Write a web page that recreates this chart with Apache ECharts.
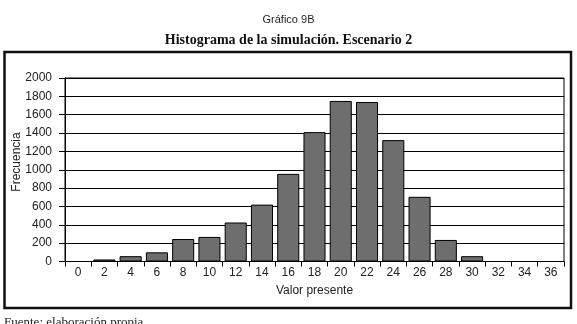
<!DOCTYPE html>
<html>
<head>
<meta charset="utf-8">
<script src="https://cdn.jsdelivr.net/npm/echarts@6/dist/echarts.min.js"></script>
<style>html,body{margin:0;padding:0;background:#fff;}#c{width:577px;height:324px;}</style>
</head>
<body>
<div id="c"></div>
<script>
const categories = ['0','2','4','6','8','10','12','14','16','18','20','22','24','26','28','30','32','34','36'];
const frecuencia = [0, 22, 58, 100, 245, 268, 425, 620, 955, 1410, 1750, 1738, 1323, 705, 235, 58, 0, 0, 0];
const yTicks = {min: 0, max: 2000, interval: 200};

const chart = echarts.init(document.getElementById('c'), null, {renderer: 'canvas'});
chart.setOption({
  animation: false,
  backgroundColor: '#fff',
  title: [
    {text: 'Gráfico 9B', left: 'center', top: 9, textStyle: {fontFamily: 'Liberation Sans', fontSize: 11, fontWeight: 'normal', color: '#222'}},
    {text: 'Histograma de la simulación. Escenario 2', left: 'center', top: 28, textStyle: {fontFamily: 'Liberation Serif', fontSize: 14, fontWeight: 'bold', color: '#111'}}
  ],
  graphic: [
    {type: 'rect', shape: {x: 4.5, y: 52, width: 566.5, height: 256}, style: {fill: 'none', stroke: '#111', lineWidth: 2.5}, silent: true},
    {type: 'text', left: 4, top: 316, style: {text: 'Fuente: elaboración propia', font: '13px "Liberation Serif"', fill: '#222'}, silent: true},
    {type: 'text', x: 17, y: 162, rotation: Math.PI / 2, style: {text: 'Frecuencia', font: '12px "Liberation Sans"', fill: '#222', align: 'center', verticalAlign: 'middle'}, silent: true}
  ],
  grid: {left: 65, right: 13, top: 78, bottom: 62.5, show: true, borderColor: '#000', borderWidth: 1, containLabel: false, outerBoundsMode: 'none'},
  xAxis: {
    type: 'category',
    data: categories,
    name: 'Valor presente',
    nameLocation: 'middle',
    nameGap: 23,
    nameTextStyle: {fontFamily: 'Liberation Sans', fontSize: 12, color: '#222'},
    axisLine: {lineStyle: {color: '#000', width: 1}},
    axisTick: {show: true, inside: false, length: 5, alignWithLabel: false, lineStyle: {color: '#000'}},
    axisLabel: {fontFamily: 'Liberation Sans', fontSize: 12, color: '#222', margin: 5, interval: 0},
    splitLine: {show: false}
  },
  yAxis: {
    type: 'value',
    min: yTicks.min,
    max: yTicks.max,
    interval: yTicks.interval,
    axisLine: {show: true, lineStyle: {color: '#000', width: 1}},
    axisTick: {show: true, length: 6, lineStyle: {color: '#000'}},
    axisLabel: {fontFamily: 'Liberation Sans', fontSize: 12, color: '#222', margin: 13, formatter: v => String(v)},
    splitLine: {show: true, lineStyle: {color: '#000', width: 1}}
  },
  series: [{
    type: 'bar',
    data: frecuencia,
    barCategoryGap: '16%',
    itemStyle: {color: '#6e6e6e', borderColor: '#000', borderWidth: 1}
  }]
});
</script>
</body>
</html>
